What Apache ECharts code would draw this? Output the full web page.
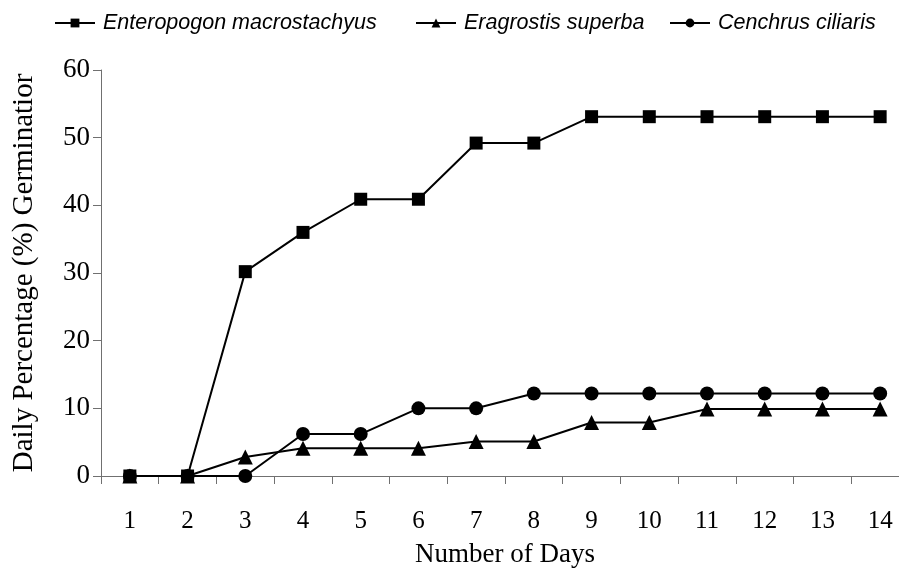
<!DOCTYPE html>
<html>
<head>
<meta charset="utf-8">
<script src="https://cdn.jsdelivr.net/npm/echarts@6/dist/echarts.min.js"></script>
<style>html,body{margin:0;padding:0;background:#fff;overflow:hidden}#c{width:915px;height:582px}</style>
</head>
<body>
<div id="c"></div>
<script>
const days = ['1','2','3','4','5','6','7','8','9','10','11','12','13','14'];
const enteropogon = [0, 0, 30.2, 36, 40.9, 40.9, 49.2, 49.2, 53.1, 53.1, 53.1, 53.1, 53.1, 53.1];
const eragrostis = [0, 0, 2.8, 4.1, 4.1, 4.1, 5.1, 5.1, 7.9, 7.9, 9.9, 9.9, 9.9, 9.9];
const cenchrus = [0, 0, 0, 6.2, 6.2, 10, 10, 12.2, 12.2, 12.2, 12.2, 12.2, 12.2, 12.2];
const yTicks = [0, 10, 20, 30, 40, 50, 60];
const seriesNames = ['Enteropogon macrostachyus', 'Eragrostis superba', 'Cenchrus ciliaris'];

const serif = 'Liberation Serif';
const chart = echarts.init(document.getElementById('c'), null, {renderer: 'canvas'});
const mk = (name, data, symbol, size) => ({
  name, type: 'line', data, symbol, symbolSize: size, showAllSymbol: true,
  lineStyle: {color: '#000', width: 2},
  itemStyle: {color: '#000'},
  emphasis: {disabled: true},
  animation: false
});
const legendLefts = [49, 410, 664];
const legends = seriesNames.map((n, i) => ({
  left: legendLefts[i], top: 7, itemWidth: 40, itemHeight: 11,
  selectedMode: false,
  textStyle: {fontFamily: 'Liberation Sans', fontStyle: 'italic', fontSize: 21.5, color: '#000', padding: [0, 0, 0, 3]},
  data: [n]
}));
chart.setOption({
  animation: false,
  legend: legends,
  grid: {left: 101, top: 70, width: 808, height: 406, containLabel: false},
  xAxis: {
    type: 'category', data: days, boundaryGap: true,
    name: 'Number of Days', nameLocation: 'middle', nameGap: 65,
    nameTextStyle: {fontFamily: serif, fontSize: 27, color: '#000'},
    axisLine: {lineStyle: {color: '#707070', width: 1}},
    axisTick: {show: true, length: 8, inside: false, lineStyle: {color: '#707070'}},
    axisLabel: {fontFamily: serif, fontSize: 25, color: '#000', margin: 33, interval: 0}
  },
  yAxis: {
    type: 'value', min: yTicks[0], max: yTicks[yTicks.length - 1], interval: 10,
    name: 'Daily Percentage (%) Germinatior', nameLocation: 'middle', nameGap: 62,
    nameTextStyle: {fontFamily: serif, fontSize: 29, color: '#000'},
    axisLine: {show: true, lineStyle: {color: '#707070', width: 1}},
    axisTick: {show: true, length: 8, lineStyle: {color: '#707070'}},
    axisLabel: {fontFamily: serif, fontSize: 27, color: '#000', margin: 11},
    splitLine: {show: false}
  },
  series: [
    mk(seriesNames[0], enteropogon, 'rect', 13),
    mk(seriesNames[1], eragrostis, 'triangle', 15),
    mk(seriesNames[2], cenchrus, 'circle', 14)
  ]
});
</script>
</body>
</html>
